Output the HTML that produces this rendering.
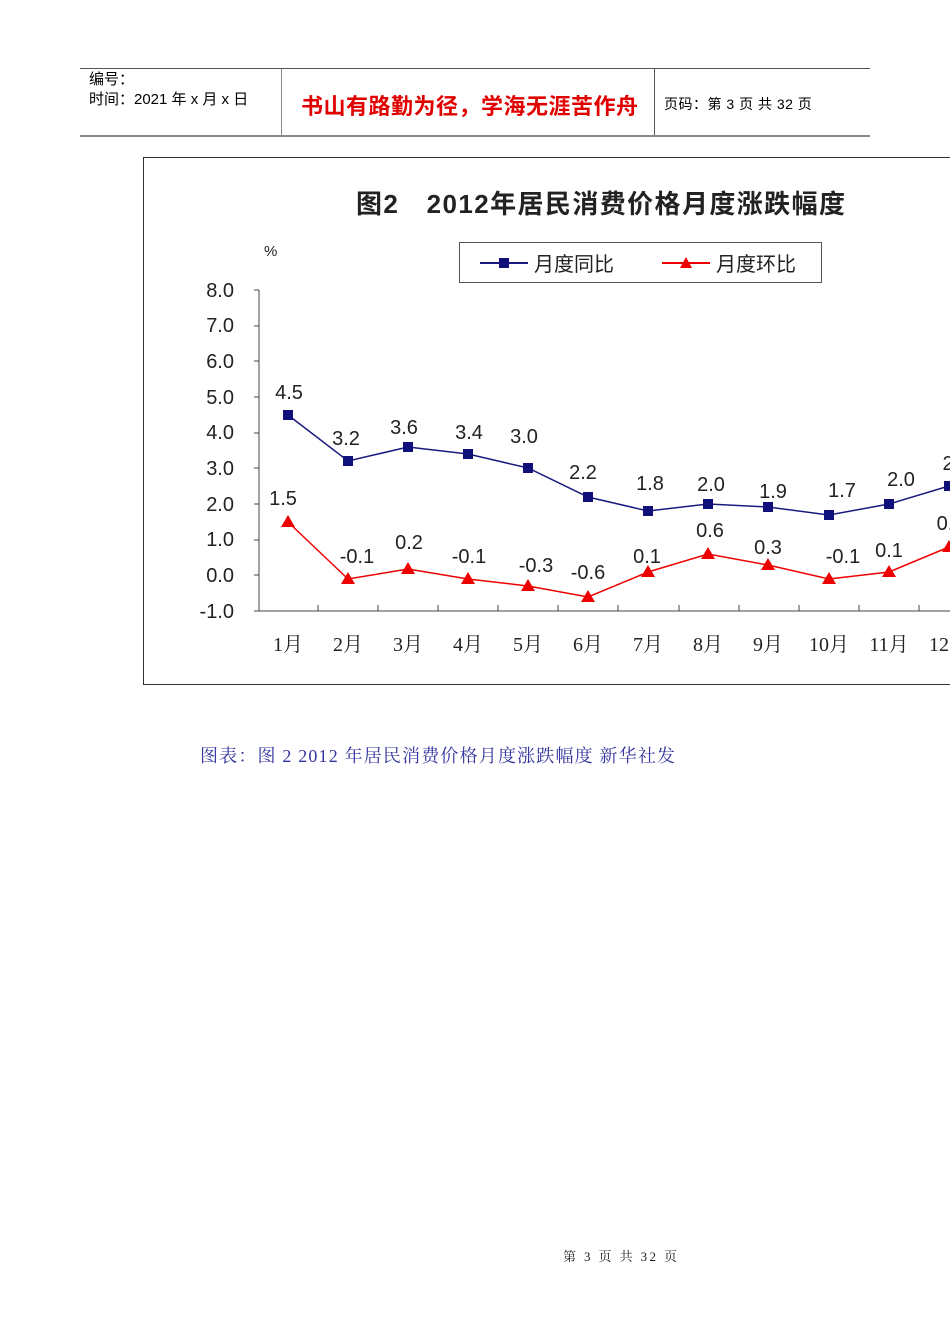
<!DOCTYPE html>
<html><head><meta charset="utf-8"><style>
body{margin:0;background:#fff;}
.pg{position:relative;width:950px;height:1344px;overflow:hidden;font-family:"Liberation Sans","Noto Sans CJK SC",sans-serif;}
</style></head><body><div class="pg">
<div style="position:absolute;left:80px;top:68px;width:790px;height:1px;background:#555"></div>
<div style="position:absolute;left:80px;top:135px;width:790px;height:2px;background:#888"></div>
<div style="position:absolute;left:281px;top:69px;width:1px;height:66px;background:#888"></div>
<div style="position:absolute;left:654px;top:69px;width:1px;height:66px;background:#555"></div>
<div style="position:absolute;left:89px;top:70px;font-size:15px;line-height:20px;color:#000">编号：<br>时间：2021 年 x 月 x 日</div>
<div style="position:absolute;left:301px;top:89px;font-size:22px;font-weight:bold;color:#e00000;letter-spacing:0.5px">书山有路勤为径，学海无涯苦作舟</div>
<div style="position:absolute;left:664px;top:94px;font-size:14px;color:#000;letter-spacing:0.5px">页码：第 3 页  共 32 页</div>
<svg style="position:absolute;left:0;top:0" width="950" height="1344" font-family="Liberation Sans, Noto Sans CJK SC, sans-serif">
<rect x="143.5" y="157.5" width="820" height="527" fill="#fff" stroke="#333"/>
<text x="356" y="213" font-size="26" font-weight="bold" fill="#222" textLength="489">图2　2012年居民消费价格月度涨跌幅度</text>
<text x="264" y="256" font-size="15" fill="#222">%</text>
<rect x="459.5" y="242.5" width="362" height="40" fill="#fff" stroke="#555"/>
<line x1="480" y1="263" x2="528" y2="263" stroke="#1a1a80" stroke-width="2"/><rect x="499" y="258" width="10" height="10" fill="#10107a"/>
<text x="534" y="271" font-size="20" fill="#222">月度同比</text>
<line x1="662" y1="263" x2="710" y2="263" stroke="#e00" stroke-width="2"/><polygon points="686,257 692,268 680,268" fill="#e00"/>
<text x="716" y="271" font-size="20" fill="#222">月度环比</text>
<g font-size="20" fill="#222" text-anchor="end">
<text x="234" y="297">8.0</text><text x="234" y="332">7.0</text><text x="234" y="368">6.0</text><text x="234" y="404">5.0</text><text x="234" y="439">4.0</text><text x="234" y="475">3.0</text><text x="234" y="511">2.0</text><text x="234" y="546">1.0</text><text x="234" y="582">0.0</text><text x="234" y="618">-1.0</text>
</g>
<g stroke="#444" stroke-width="1">
<line x1="259" y1="290" x2="259" y2="611"/><line x1="259" y1="611" x2="950" y2="611"/>
<line x1="254" y1="290" x2="259" y2="290"/><line x1="254" y1="326" x2="259" y2="326"/><line x1="254" y1="361" x2="259" y2="361"/><line x1="254" y1="397" x2="259" y2="397"/><line x1="254" y1="433" x2="259" y2="433"/><line x1="254" y1="468" x2="259" y2="468"/><line x1="254" y1="504" x2="259" y2="504"/><line x1="254" y1="540" x2="259" y2="540"/><line x1="254" y1="575" x2="259" y2="575"/><line x1="254" y1="611" x2="259" y2="611"/>
<line x1="318" y1="605" x2="318" y2="611"/><line x1="378" y1="605" x2="378" y2="611"/><line x1="438" y1="605" x2="438" y2="611"/><line x1="498" y1="605" x2="498" y2="611"/><line x1="558" y1="605" x2="558" y2="611"/><line x1="618" y1="605" x2="618" y2="611"/><line x1="679" y1="605" x2="679" y2="611"/><line x1="739" y1="605" x2="739" y2="611"/><line x1="799" y1="605" x2="799" y2="611"/><line x1="859" y1="605" x2="859" y2="611"/><line x1="919" y1="605" x2="919" y2="611"/>
</g>
<polyline fill="none" stroke="#1a1a80" stroke-width="1.5" points="288,415 348,461 408,447 468,454 528,468 588,497 648,511 708,504 768,507 829,515 889,504 949,486"/>
<g fill="#10107a">
<rect x="283" y="410" width="10" height="10"/><rect x="343" y="456" width="10" height="10"/><rect x="403" y="442" width="10" height="10"/><rect x="463" y="449" width="10" height="10"/><rect x="523" y="463" width="10" height="10"/><rect x="583" y="492" width="10" height="10"/><rect x="643" y="506" width="10" height="10"/><rect x="703" y="499" width="10" height="10"/><rect x="763" y="502" width="10" height="10"/><rect x="824" y="510" width="10" height="10"/><rect x="884" y="499" width="10" height="10"/><rect x="944" y="481" width="10" height="10"/>
</g>
<polyline fill="none" stroke="#e00" stroke-width="1.5" points="288,522 348,579 408,569 468,579 528,586 588,597 648,572 708,554 768,565 829,579 889,572 949,547"/>
<g fill="#e00">
<polygon points="288,515 295,527 281,527"/><polygon points="348,572 355,584 341,584"/><polygon points="408,562 415,574 401,574"/><polygon points="468,572 475,584 461,584"/><polygon points="528,579 535,591 521,591"/><polygon points="588,590 595,602 581,602"/><polygon points="648,565 655,577 641,577"/><polygon points="708,547 715,559 701,559"/><polygon points="768,558 775,570 761,570"/><polygon points="829,572 836,584 822,584"/><polygon points="889,565 896,577 882,577"/><polygon points="949,540 956,552 942,552"/>
</g>
<g font-size="20" fill="#222" text-anchor="middle">
<text x="289" y="399">4.5</text><text x="346" y="445">3.2</text><text x="404" y="434">3.6</text><text x="469" y="439">3.4</text><text x="524" y="443">3.0</text><text x="583" y="479">2.2</text><text x="650" y="490">1.8</text><text x="711" y="491">2.0</text><text x="773" y="498">1.9</text><text x="842" y="497">1.7</text><text x="901" y="486">2.0</text><text x="948" y="470">2</text>
<text x="283" y="505">1.5</text><text x="357" y="563">-0.1</text><text x="409" y="549">0.2</text><text x="469" y="563">-0.1</text><text x="536" y="572">-0.3</text><text x="588" y="579">-0.6</text><text x="647" y="563">0.1</text><text x="710" y="537">0.6</text><text x="768" y="554">0.3</text><text x="843" y="563">-0.1</text><text x="889" y="557">0.1</text><text x="945" y="530">0.</text>
</g>
<g font-size="20" fill="#222" font-family="Liberation Serif, Noto Serif CJK SC, serif" text-anchor="middle">
<text x="288" y="651">1月</text><text x="348" y="651">2月</text><text x="408" y="651">3月</text><text x="468" y="651">4月</text><text x="528" y="651">5月</text><text x="588" y="651">6月</text><text x="648" y="651">7月</text><text x="708" y="651">8月</text><text x="768" y="651">9月</text><text x="829" y="651">10月</text><text x="889" y="651">11月</text><text x="949" y="651">12月</text>
</g>
<text x="200" y="762" font-size="18" fill="#3535a0" font-family="Liberation Serif, Noto Serif CJK SC, serif" textLength="475">图表：图 2  2012 年居民消费价格月度涨跌幅度  新华社发</text>
<text x="563" y="1261" font-size="13" fill="#222" font-family="Liberation Serif, Noto Serif CJK SC, serif" textLength="114">第  3  页  共  32  页</text>
</svg>
</div></body></html>
